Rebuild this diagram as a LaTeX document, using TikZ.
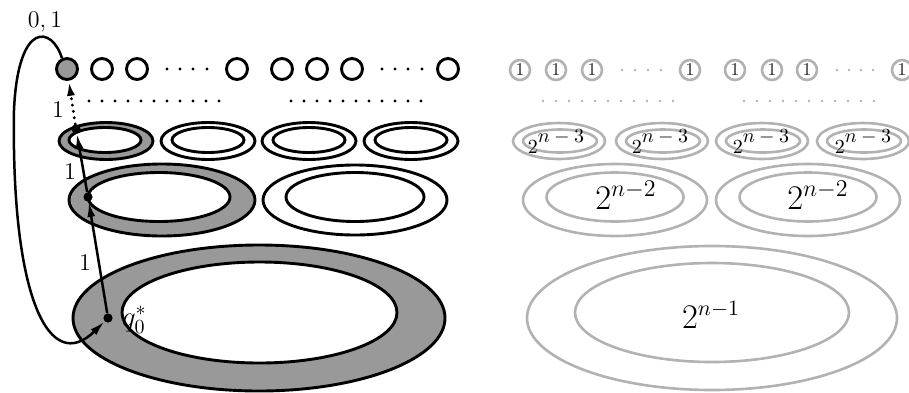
\documentclass[tikz,border=0pt]{standalone}
\usetikzlibrary{arrows.meta}
\newcommand{\tinypow}[1]{$2$\raisebox{5.5pt}{$#1$}}
\begin{document}
\begin{tikzpicture}[x=0.5pt,y=-0.5pt,
  edge/.style={line width=1.45pt},
  faint/.style={line width=1.3pt, draw=black!30},
  shaded/.style={fill=black!40},
  state/.style={circle, draw, line width=1.45pt, minimum size=10.5pt, inner sep=0pt},
  fstate/.style={circle, draw=black!30, line width=1.3pt, minimum size=10pt, inner sep=0pt,
    font=\fontsize{9.5}{9.5}\selectfont, text=black!85},
  pin/.style={circle, fill, inner sep=0pt, minimum size=4.6pt},
  arr/.style={-{Latex[length=7.5pt,width=4pt]}, line width=1.25pt},
  lbl/.style={font=\fontsize{12.5}{14}\selectfont},
  small/.style={font=\fontsize{10}{10}\selectfont, inner sep=0pt},
]
\useasboundingbox (0,0) rectangle (909,392);

% ---------- left half: the marked construction ----------
% big ellipse
\filldraw[edge, shaded] (259,318) ellipse [x radius=186, y radius=73];
\filldraw[edge, fill=white] (259.5,312.5) ellipse [x radius=137.5, y radius=50.5];
% middle row
\filldraw[edge, shaded] (162,200) ellipse [x radius=93, y radius=36];
\filldraw[edge, fill=white] (159,197) ellipse [x radius=71, y radius=24.5];
\draw[edge] (355,200) ellipse [x radius=92, y radius=35];
\draw[edge] (355,197) ellipse [x radius=69, y radius=24.5];
% small row
\filldraw[edge, shaded] (106,141) ellipse [x radius=47, y radius=18.5];
\filldraw[edge, fill=white] (105,140) ellipse [x radius=36, y radius=12.5];
\foreach \cx in {208,309,411} {
  \draw[edge] (\cx,141) ellipse [x radius=47, y radius=18.5];
  \draw[edge] (\cx,140) ellipse [x radius=36, y radius=12.5];
}
% row of dots
\foreach \k in {0,...,10} {
  \fill ({89+13*\k},101) circle (1.6);
  \fill ({291+13*\k},101) circle (1.6);
}
% top row of single states
\node[state, fill=black!40] (c0) at (67,69) {};
\foreach \cx in {102,137,237,282,317,352,448}
  \node[state] (s\cx) at (\cx,69) {};
\foreach \cx in {167,180,193,207,382,395,408,422}
  \fill (\cx,69) circle (1.6);

% path of the run
\node[pin] (q0) at (108,318) {};
\node[pin] (m1) at (88,197) {};
\node[pin] (m2) at (76,129) {};
\draw[arr] (q0) -- (m1);
\draw[arr] (m1) -- (m2);
\draw[arr, line width=1.6pt, line cap=round, dash pattern=on 0pt off 3.2pt] (m2) -- (c0);
\draw[arr] (c0.115) .. controls (52,26) and (18,20) .. (14,110)
  .. controls (11,300) and (50,375) .. (q0);

\node[lbl] (l01) at (45,22) {$0,1$};
\node[lbl] (la) at (58,110) {$1$};
\node[lbl] (lb) at (70,172) {$1$};
\node[lbl] (lc) at (85,263) {$1$};
\node[font=\fontsize{14}{16}\selectfont, anchor=west] (lq) at (115,320) {$q_0^*$};

% ---------- right half: the counts ----------
\draw[faint] (712,318) ellipse [x radius=185, y radius=72];
\draw[faint] (712,312.5) ellipse [x radius=137, y radius=49.5];
\foreach \cx in {615,808} {
  \draw[faint] (\cx,200) ellipse [x radius=92, y radius=36];
  \draw[faint] (\cx,197) ellipse [x radius=68.5, y radius=24.5];
}
\foreach \cx in {559,662,762,863} {
  \draw[faint] (\cx,141) ellipse [x radius=46, y radius=18];
  \draw[faint] (\cx+1,141) ellipse [x radius=37, y radius=11.5];
}
\foreach \cx in {556,660,761,863}
  \node[small] (p\cx) at (\cx,142) {\tinypow{n-3}};
\node[font=\fontsize{16.5}{18}\selectfont] (h1) at (626,195) {$2^{n-2}$};
\node[font=\fontsize{16.5}{18}\selectfont] (h2) at (818,195) {$2^{n-2}$};
\node[font=\fontsize{16}{18}\selectfont] (g1) at (711,315) {$2^{n-1}$};

\foreach \k in {0,...,10} {
  \fill[black!30] ({543+13*\k},101) circle (1.4);
  \fill[black!30] ({744+13*\k},101) circle (1.4);
}
\foreach \cx in {520,556,592,690,735,772,807,902}
  \node[fstate] (f\cx) at (\cx,70) {$1$};
\foreach \cx in {622,635,648,661,837,849,861,873}
  \fill[black!30] (\cx,70) circle (1.4);
\end{tikzpicture}
\end{document}
